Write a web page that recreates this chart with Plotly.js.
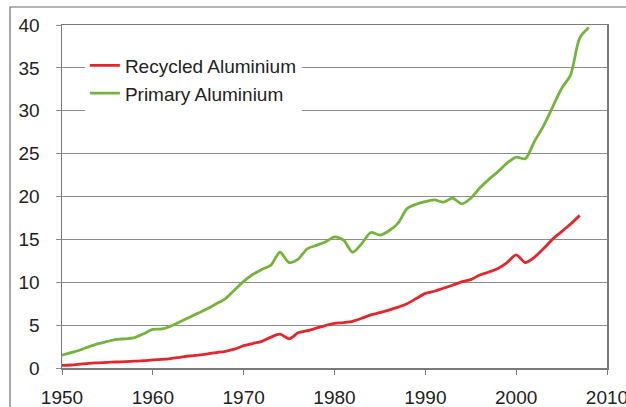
<!DOCTYPE html>
<html>
<head>
<meta charset="utf-8">
<script src="https://cdn.plot.ly/plotly-3.0.1.min.js"></script>
<style>html,body{margin:0;padding:0;background:#fff;}#chart{width:626px;height:407px;}</style>
</head>
<body>
<div id="chart"></div>
<script>
const primaryYears = [1950,1951,1952,1953,1954,1955,1956,1957,1958,1959,1960,1961,1962,1963,1964,1965,1966,1967,1968,1969,1970,1971,1972,1973,1974,1975,1976,1977,1978,1979,1980,1981,1982,1983,1984,1985,1986,1987,1988,1989,1990,1991,1992,1993,1994,1995,1996,1997,1998,1999,2000,2001,2002,2003,2004,2005,2006,2007,2008];
const primaryValues = [1.5,1.8,2.1,2.5,2.85,3.1,3.35,3.4,3.55,4.0,4.5,4.55,4.9,5.4,5.9,6.4,6.9,7.5,8.1,9.1,10.1,10.9,11.5,12.0,13.5,12.3,12.7,13.9,14.3,14.7,15.3,14.9,13.5,14.5,15.8,15.5,16.0,16.9,18.6,19.1,19.4,19.6,19.35,19.8,19.15,19.8,21.0,22.0,22.9,23.9,24.6,24.4,26.4,28.2,30.4,32.6,34.2,38.5,39.7];
const recycledYears = [1950,1951,1952,1953,1954,1955,1956,1957,1958,1959,1960,1961,1962,1963,1964,1965,1966,1967,1968,1969,1970,1971,1972,1973,1974,1975,1976,1977,1978,1979,1980,1981,1982,1983,1984,1985,1986,1987,1988,1989,1990,1991,1992,1993,1994,1995,1996,1997,1998,1999,2000,2001,2002,2003,2004,2005,2006,2007];
const recycledValues = [0.3,0.35,0.45,0.55,0.6,0.65,0.7,0.75,0.8,0.85,0.95,1.0,1.1,1.25,1.4,1.5,1.65,1.8,1.95,2.2,2.6,2.85,3.1,3.6,3.95,3.4,4.1,4.35,4.65,4.95,5.2,5.3,5.45,5.8,6.2,6.45,6.75,7.1,7.5,8.1,8.7,8.95,9.3,9.65,10.05,10.3,10.85,11.2,11.6,12.3,13.2,12.3,12.9,13.9,15.0,15.9,16.8,17.8];
const seriesNames = ["Recycled Aluminium","Primary Aluminium"];
const xTicks = [1950,1960,1970,1980,1990,2000,2010];
const yTicks = [0,5,10,15,20,25,30,35,40];

const font = {family: "Liberation Sans, Arial, sans-serif", size: 19, color: "#222"};

const traces = [
  {x: recycledYears, y: recycledValues, name: seriesNames[0], type: "scatter", mode: "lines",
   line: {color: "#e3262b", width: 2.8, shape: "spline", smoothing: 0.8}},
  {x: primaryYears, y: primaryValues, name: seriesNames[1], type: "scatter", mode: "lines",
   line: {color: "#74b43c", width: 2.8, shape: "spline", smoothing: 0.8}}
];

const layout = {
  width: 626, height: 407,
  margin: {l: 62, r: 19, t: 25, b: 39},
  paper_bgcolor: "#ffffff",
  plot_bgcolor: "#ffffff",
  font: font,
  showlegend: true,
  legend: {x: 0.042, y: 0.937, xanchor: "left", yanchor: "top", bgcolor: "#ffffff",
           font: {family: font.family, size: 19, color: "#222"}, tracegroupgap: 0, itemwidth: 30},
  xaxis: {range: [1950, 2010], tickvals: xTicks, ticktext: xTicks.map(String),
          showgrid: false, zeroline: false, showline: true, linecolor: "#7a7a7a", linewidth: 1.5,
          mirror: true, ticks: "outside", ticklen: 5, tickcolor: "#7a7a7a", ticklabelstandoff: 7,
          ticklabeloverflow: "allow",
          tickfont: font, fixedrange: true},
  yaxis: {range: [0, 40], tickvals: yTicks, ticktext: yTicks.map(String),
          showgrid: true, gridcolor: "#8c8c8c", gridwidth: 1, zeroline: false,
          showline: true, linecolor: "#7a7a7a", linewidth: 1.5, mirror: true,
          ticks: "outside", ticklen: 5, tickcolor: "#8c8c8c", ticklabelstandoff: 12,
          tickfont: font, fixedrange: true},
  shapes: [
    {type: "rect", xref: "paper", yref: "paper", x0: -0.0954, x1: 1.2, y0: -0.3, y1: 1.0525,
     line: {color: "#6a6a6a", width: 1.2}, fillcolor: "rgba(0,0,0,0)", layer: "below"}
  ]
};

Plotly.newPlot("chart", traces, layout, {displayModeBar: false, staticPlot: true});
</script>
</body>
</html>
